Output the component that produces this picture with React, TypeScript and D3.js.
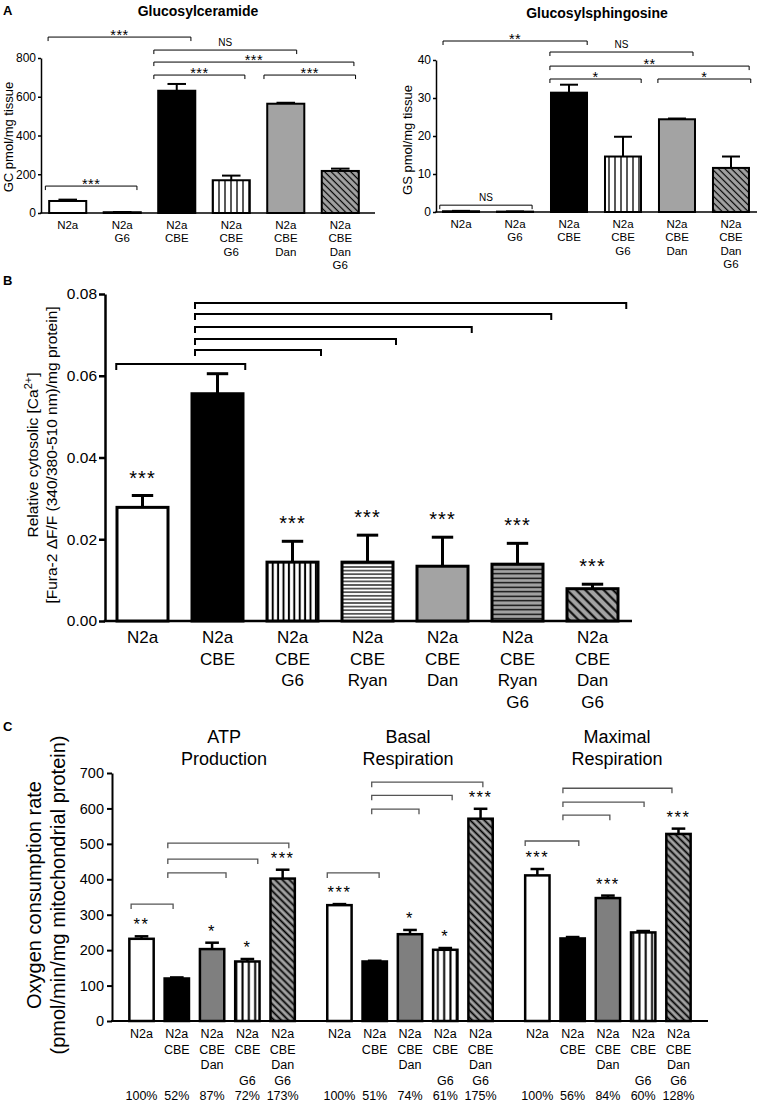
import React, { useEffect, useRef } from "react";
import * as d3 from "d3";

const FONT = "'Liberation Sans', Arial, Helvetica, sans-serif";

// ---------- A: glucosylceramide / glucosylsphingosine
const groupsA = ["N2a", "N2a\nG6", "N2a\nCBE", "N2a\nCBE\nG6", "N2a\nCBE\nDan", "N2a\nCBE\nDan\nG6"];
const gcMean = [62, 4, 631, 169, 564, 217];
const gcErr = [7, 1, 35, 24, 5, 12];
const gcTicks = [0, 200, 400, 600, 800];
const gsMean = [0.2, 0.1, 31.4, 14.6, 24.4, 11.6];
const gsErr = [0.1, 0.05, 2.1, 5.2, 0.2, 3.0];
const gsTicks = [0, 10, 20, 30, 40];

type Bracket = { from: number; to: number; at: number; mark?: string };
// from / to are in bar steps counted from the left edge of the first bar
const gcBrackets: Bracket[] = [
  { from: -0.07, to: 1.61, at: 139, mark: "***" },
  { from: -0.02, to: 2.6, at: 908, mark: "***" },
  { from: 1.92, to: 4.54, at: 841, mark: "NS" },
  { from: 1.92, to: 5.59, at: 779, mark: "***" },
  { from: 1.92, to: 3.59, at: 712, mark: "***" },
  { from: 3.94, to: 5.62, at: 712, mark: "***" },
];
const gsBrackets: Bracket[] = [
  { from: -0.06, to: 1.65, at: 1.8, mark: "NS" },
  { from: 0, to: 2.67, at: 45, mark: "**" },
  { from: 1.98, to: 4.63, at: 42.1, mark: "NS" },
  { from: 1.98, to: 5.67, at: 38.4, mark: "**" },
  { from: 1.98, to: 3.67, at: 35, mark: "*" },
  { from: 3.98, to: 5.7, at: 35, mark: "*" },
];

// ---------- B: cytosolic calcium
const groupsB = ["N2a", "N2a\nCBE", "N2a\nCBE\nG6", "N2a\nCBE\nRyan", "N2a\nCBE\nDan", "N2a\nCBE\nRyan\nG6", "N2a\nCBE\nDan\nG6"];
const caMean = [0.0278, 0.0556, 0.0144, 0.0144, 0.0134, 0.0139, 0.0079];
const caErr = [0.0029, 0.0049, 0.0051, 0.0066, 0.0071, 0.0051, 0.0011];
const caStars = ["***", "", "***", "***", "***", "***", "***"];
const caTicks = [0, 0.02, 0.04, 0.06, 0.08];
const caBrackets: Bracket[] = [
  { from: -0.01, to: 1.71, at: 0.0629 },
  { from: 1.04, to: 2.72, at: 0.0663 },
  { from: 1.04, to: 3.72, at: 0.069 },
  { from: 1.04, to: 4.73, at: 0.0719 },
  { from: 1.04, to: 5.79, at: 0.0751 },
  { from: 1.04, to: 6.79, at: 0.0778 },
];

// ---------- C: oxygen consumption
const ocrGroups = ["ATP\nProduction", "Basal\nRespiration", "Maximal\nRespiration"];
const ocrConditions = ["N2a", "N2a\nCBE", "N2a\nCBE\nDan", "N2a\nCBE\n\nG6", "N2a\nCBE\nDan\nG6"];
const ocrTicks = [0, 100, 200, 300, 400, 500, 600, 700];
const atpMean = [232, 120, 203, 168, 402];
const atpErr = [7, 3, 18, 7, 25];
const basalMean = [327, 168, 245, 201, 571];
const basalErr = [3, 2, 12, 5, 28];
const maxMean = [411, 233, 347, 250, 528];
const maxErr = [18, 4, 7, 4, 15];
const atpPct = ["100%", "52%", "87%", "72%", "173%"];
const basalPct = ["100%", "51%", "74%", "61%", "175%"];
const maxPct = ["100%", "56%", "84%", "60%", "128%"];
const atpStars = ["**", "", "*", "*", "***"];
const basalStars = ["***", "", "*", "*", "***"];
const maxStars = ["***", "", "***", "", "***"];
const atpBrackets: Bracket[] = [
  { from: 0.05, to: 1.24, at: 330 },
  { from: 1.09, to: 2.74, at: 418 },
  { from: 1.09, to: 3.64, at: 457 },
  { from: 1.09, to: 4.52, at: 502 },
];
const basalBrackets: Bracket[] = [
  { from: 0, to: 1.47, at: 418 },
  { from: 1.26, to: 2.6, at: 598 },
  { from: 1.26, to: 3.54, at: 637 },
  { from: 1.26, to: 4.41, at: 674 },
];
const maxBrackets: Bracket[] = [
  { from: 0, to: 1.52, at: 508 },
  { from: 1.07, to: 2.4, at: 581 },
  { from: 1.07, to: 3.37, at: 618 },
  { from: 1.07, to: 4.16, at: 657 },
];

// bar looks (kept apart from the data)
const fillsA = ["white", "white", "black", "vert", "gray", "diag"];
const fillsB = ["white", "black", "vert", "horiz", "gray", "grayHoriz", "diag"];
const fillsC = ["white", "black", "dark", "vert", "diag"];

const GRAY = "#a3a3a3";

function fillOf(prefix: string, key: string) {
  if (key === "white") return "#fff";
  if (key === "black") return "#000";
  if (key === "gray") return GRAY;
  if (key === "dark") return "#7f7f7f";
  return `url(#${prefix}-${key})`;
}

function makePatterns(defs: any, prefix: string, o: any) {
  const vert = defs.append("pattern").attr("id", `${prefix}-vert`)
    .attr("patternUnits", "userSpaceOnUse").attr("width", o.vStep).attr("height", 8);
  vert.append("rect").attr("width", o.vStep).attr("height", 8).attr("fill", "#fff");
  vert.append("rect").attr("x", (o.vStep - o.vW) / 2).attr("width", o.vW).attr("height", 8).attr("fill", "#000");

  const hs: any[] = [["horiz", "#fff", o.hStep, o.hW], ["grayHoriz", GRAY, o.ghStep, o.ghW]];
  hs.forEach(([k, bg, st, w]) => {
    const p = defs.append("pattern").attr("id", `${prefix}-${k}`)
      .attr("patternUnits", "userSpaceOnUse").attr("width", 8).attr("height", st);
    p.append("rect").attr("width", 8).attr("height", st).attr("fill", bg);
    p.append("rect").attr("y", (st - w) / 2).attr("width", 8).attr("height", w).attr("fill", "#000");
  });

  const diag = defs.append("pattern").attr("id", `${prefix}-diag`)
    .attr("patternUnits", "userSpaceOnUse").attr("width", o.dStep).attr("height", 8)
    .attr("patternTransform", "rotate(-45)");
  diag.append("rect").attr("width", o.dStep).attr("height", 8).attr("fill", GRAY);
  diag.append("rect").attr("x", (o.dStep - o.dW) / 2).attr("width", o.dW).attr("height", 8).attr("fill", "#000");
}

function yAxis(g: any, y: any, left: number, ticks: number[], fmt: (v: number) => string, st: any) {
  const ax = g.append("g").attr("transform", `translate(${left},0)`)
    .call(d3.axisLeft(y).tickValues(ticks).tickFormat(fmt as any).tickSize(st.tick).tickSizeOuter(0).tickPadding(st.pad));
  ax.attr("font-family", FONT).attr("font-size", st.tickFont);
  ax.selectAll("path, line").attr("stroke", "#000").attr("stroke-width", st.axisW);
  ax.selectAll("text").attr("fill", "#000");
}

function bars(g: any, xs: number[], bw: number, means: number[], errs: number[], fills: string[], prefix: string, y: any, st: any) {
  const data = means.map((m, i) => ({ m, e: errs[i], x: xs[i], f: fills[i] }));
  const b = g.append("g").selectAll("g").data(data).join("g");
  b.append("line")
    .attr("x1", (d: any) => d.x + bw / 2).attr("x2", (d: any) => d.x + bw / 2)
    .attr("y1", (d: any) => y(d.m)).attr("y2", (d: any) => y(d.m + d.e))
    .attr("stroke", "#000").attr("stroke-width", st.sw);
  b.append("line")
    .attr("x1", (d: any) => d.x + bw / 2 - (bw * st.capFrac) / 2).attr("x2", (d: any) => d.x + bw / 2 + (bw * st.capFrac) / 2)
    .attr("y1", (d: any) => y(d.m + d.e)).attr("y2", (d: any) => y(d.m + d.e))
    .attr("stroke", "#000").attr("stroke-width", st.sw);
  b.append("rect")
    .attr("x", (d: any) => d.x).attr("width", bw)
    .attr("y", (d: any) => y(d.m)).attr("height", (d: any) => y(0) - y(d.m))
    .attr("fill", (d: any) => fillOf(prefix, d.f))
    .attr("stroke", "#000").attr("stroke-width", st.sw);
}

function multiline(g: any, x: number, y0: number, lineH: number, text: string, size: number, weight = "normal") {
  const t = g.append("text").attr("text-anchor", "middle").attr("font-size", size).attr("font-weight", weight);
  text.split("\n").forEach((ln, k) => t.append("tspan").attr("x", x).attr("y", y0 + k * lineH).text(ln));
  return t;
}

function brackets(g: any, list: Bracket[], pos: (v: number) => number, y: any, st: any) {
  list.forEach((b) => {
    const yy = y(b.at), xa = pos(b.from), xb = pos(b.to);
    g.append("path").attr("d", `M${xa},${yy + st.bTick}V${yy}H${xb}V${yy + st.bTick}`)
      .attr("fill", "none").attr("stroke", st.bColor).attr("stroke-width", st.bW);
    if (b.mark) {
      const ns = b.mark === "NS";
      g.append("text").attr("x", (xa + xb) / 2).attr("y", ns ? yy - 4 : yy + 2.5)
        .attr("text-anchor", "middle").attr("font-size", ns ? 10 : 14.5)
        .attr("letter-spacing", ns ? 0 : 0.5).text(b.mark);
    }
  });
}

function simplePanel(svg: any, s: any) {
  const g = svg.append("g").attr("font-family", FONT);
  const x = d3.scaleBand<number>().domain(d3.range(s.means.length)).range([s.left, s.right])
    .paddingInner(s.pi).paddingOuter(s.po);
  const y = d3.scaleLinear().domain([0, s.yMax]).range([s.bottom, s.top]);
  const bw = x.bandwidth();
  const x0 = x(0)!;
  const pos = (v: number) => x0 + v * x.step();

  yAxis(g, y, s.left, s.ticks, s.fmt, s.st);
  g.append("line").attr("x1", s.left - s.st.axisW / 2).attr("x2", s.axisEnd)
    .attr("y1", y(0)).attr("y2", y(0)).attr("stroke", "#000").attr("stroke-width", s.st.axisW);

  bars(g, s.means.map((_: number, i: number) => x(i)!), bw, s.means, s.errs, s.fills, s.prefix, y, s.st);

  if (s.stars) {
    s.stars.forEach((t: string, i: number) => {
      if (!t) return;
      g.append("text").attr("x", x(i)! + bw / 2).attr("y", y(s.means[i] + s.errs[i]) - s.st.starGap)
        .attr("text-anchor", "middle").attr("font-size", s.st.starFont).attr("letter-spacing", 1).text(t);
    });
  }
  brackets(g, s.brackets, pos, y, s.st);
  s.labels.forEach((lab: string, i: number) =>
    multiline(g, x(i)! + bw / 2, s.st.labelY, s.st.lineH, lab, s.st.labelFont));
}

function rotLabel(svg: any, x: number, y: number, size: number, text: string) {
  return svg.append("text").attr("font-family", FONT).attr("font-size", size)
    .attr("text-anchor", "middle").attr("transform", `translate(${x},${y}) rotate(-90)`).text(text);
}

export default function App() {
  const ref = useRef<SVGSVGElement>(null);

  useEffect(() => {
    const svg = d3.select(ref.current);
    svg.selectAll("*").remove();
    svg.attr("font-family", FONT);
    const defs = svg.append("defs");
    makePatterns(defs, "a", { vStep: 6, vW: 1.3, hStep: 3.6, hW: 1, ghStep: 4.5, ghW: 1.2, dStep: 4.6, dW: 1.2 });
    makePatterns(defs, "b", { vStep: 5.4, vW: 2, hStep: 3.6, hW: 1.2, ghStep: 4.5, ghW: 1.3, dStep: 6.5, dW: 2 });
    makePatterns(defs, "c", { vStep: 6.3, vW: 2, hStep: 3.6, hW: 1, ghStep: 4.5, ghW: 1.2, dStep: 5, dW: 1.8 });

    // panel letters and titles
    svg.append("text").attr("x", 3).attr("y", 15).attr("font-size", 13).attr("font-weight", "bold").text("A");
    svg.append("text").attr("x", 3).attr("y", 285).attr("font-size", 13).attr("font-weight", "bold").text("B");
    svg.append("text").attr("x", 3).attr("y", 731).attr("font-size", 13).attr("font-weight", "bold").text("C");
    svg.append("text").attr("x", 198).attr("y", 16).attr("font-size", 14).attr("font-weight", "bold")
      .attr("text-anchor", "middle").text("Glucosylceramide");
    svg.append("text").attr("x", 597).attr("y", 18).attr("font-size", 14).attr("font-weight", "bold")
      .attr("text-anchor", "middle").text("Glucosylsphingosine");

    const stA = { axisW: 1.5, tick: 3, pad: 2, tickFont: 12, sw: 2, capFrac: 0.5, labelFont: 11.5, labelY: 229, lineH: 13.3,
      bW: 1, bTick: 4, bColor: "#000", starFont: 13, starGap: 10 };

    simplePanel(svg, { prefix: "a", means: gcMean, errs: gcErr, fills: fillsA, labels: groupsA, brackets: gcBrackets,
      ticks: gcTicks, fmt: d3.format("d"), left: 41, right: 367, axisEnd: 375, top: 58, bottom: 213, yMax: 800,
      pi: 0.32, po: 0.15, st: stA });
    rotLabel(svg, 13, 137, 13, "GC pmol/mg tissue");

    simplePanel(svg, { prefix: "a", means: gsMean, errs: gsErr, fills: fillsA, labels: groupsA, brackets: gsBrackets,
      ticks: gsTicks, fmt: d3.format("d"), left: 436, right: 756, axisEnd: 757, top: 60, bottom: 212, yMax: 40,
      pi: 0.333, po: 0.13, st: { ...stA, labelY: 228 } });
    rotLabel(svg, 412, 140, 13, "GS pmol/mg tissue");

    // B
    const stB = { axisW: 2.5, tick: 6, pad: 2, tickFont: 15.5, sw: 3, capFrac: 0.42, labelFont: 17, labelY: 643, lineH: 21.7,
      bW: 2, bTick: 6, bColor: "#000", starFont: 20, starGap: 11 };
    simplePanel(svg, { prefix: "b", means: caMean, errs: caErr, fills: fillsB, labels: groupsB, brackets: caBrackets, stars: caStars,
      ticks: caTicks, fmt: d3.format(".2f"), left: 105, right: 630, axisEnd: 632, top: 294, bottom: 621, yMax: 0.08,
      pi: 0.32, po: 0.16, st: stB });
    const l1 = rotLabel(svg, 38, 455, 15.5, "Relative cytosolic [Ca");
    l1.append("tspan").attr("dy", -6).attr("font-size", 11).text("2+");
    l1.append("tspan").attr("dy", 6).text("]");
    rotLabel(svg, 57, 455, 15.5, "[Fura-2 \u0394F/F (340/380-510 nm)/mg protein]");

    // C
    const stC = { axisW: 2, tick: 5, pad: 3, tickFont: 14.5, sw: 2.5, capFrac: 0.56, labelFont: 12.5, labelY: 1038, lineH: 15.5,
      bW: 1.3, bTick: 5, bColor: "#555", starFont: 16.5, starGap: 6 };
    const gC = svg.append("g").attr("font-family", FONT);
    const y = d3.scaleLinear().domain([0, 700]).range([1021, 773]);
    const outer = d3.scaleBand<string>().domain(ocrGroups).range([112, 708]).paddingInner(0.1086).paddingOuter(0.06);
    const inner = d3.scaleBand<number>().domain(d3.range(ocrConditions.length)).range([0, outer.bandwidth()])
      .paddingInner(0.31).paddingOuter(0.155);
    const bw = inner.bandwidth();
    yAxis(gC, y, 112, ocrTicks, d3.format("d"), stC);
    gC.append("line").attr("x1", 111).attr("x2", 708).attr("y1", y(0)).attr("y2", y(0))
      .attr("stroke", "#000").attr("stroke-width", stC.axisW);

    const sets = [
      { means: atpMean, errs: atpErr, pct: atpPct, stars: atpStars, br: atpBrackets, dx: 12 },
      { means: basalMean, errs: basalErr, pct: basalPct, stars: basalStars, br: basalBrackets, dx: -2 },
      { means: maxMean, errs: maxErr, pct: maxPct, stars: maxStars, br: maxBrackets, dx: 9 },
    ];
    sets.forEach((s, gi) => {
      const gx = outer(ocrGroups[gi])!;
      const xs = ocrConditions.map((_, i) => gx + inner(i)!);
      const pos = (v: number) => xs[0] + v * inner.step();
      bars(gC, xs, bw, s.means, s.errs, fillsC, "c", y, stC);
      s.stars.forEach((t, i) => {
        if (!t) return;
        gC.append("text").attr("x", xs[i] + bw / 2).attr("y", y(s.means[i] + s.errs[i]) - stC.starGap)
          .attr("text-anchor", "middle").attr("font-size", stC.starFont).attr("letter-spacing", 1.5).text(t);
      });
      brackets(gC, s.br, pos, y, stC);
      ocrConditions.forEach((c, i) => {
        multiline(gC, xs[i] + bw / 2, stC.labelY, stC.lineH, c, stC.labelFont);
        gC.append("text").attr("x", xs[i] + bw / 2).attr("y", 1100).attr("text-anchor", "middle")
          .attr("font-size", stC.labelFont).text(s.pct[i]);
      });
      multiline(gC, gx + outer.bandwidth() / 2 + s.dx, 743, 22, ocrGroups[gi], 18);
    });
    rotLabel(svg, 41, 895, 20, "Oxygen consumption rate");
    rotLabel(svg, 65, 895, 20, "(pmol/min/mg mitochondrial protein)");
  }, []);

  return (
    <div style={{ position: "absolute", left: 0, top: 0 }}>
      <svg ref={ref} width={760} height={1104} style={{ display: "block", background: "#fff" }} />
    </div>
  );
}
